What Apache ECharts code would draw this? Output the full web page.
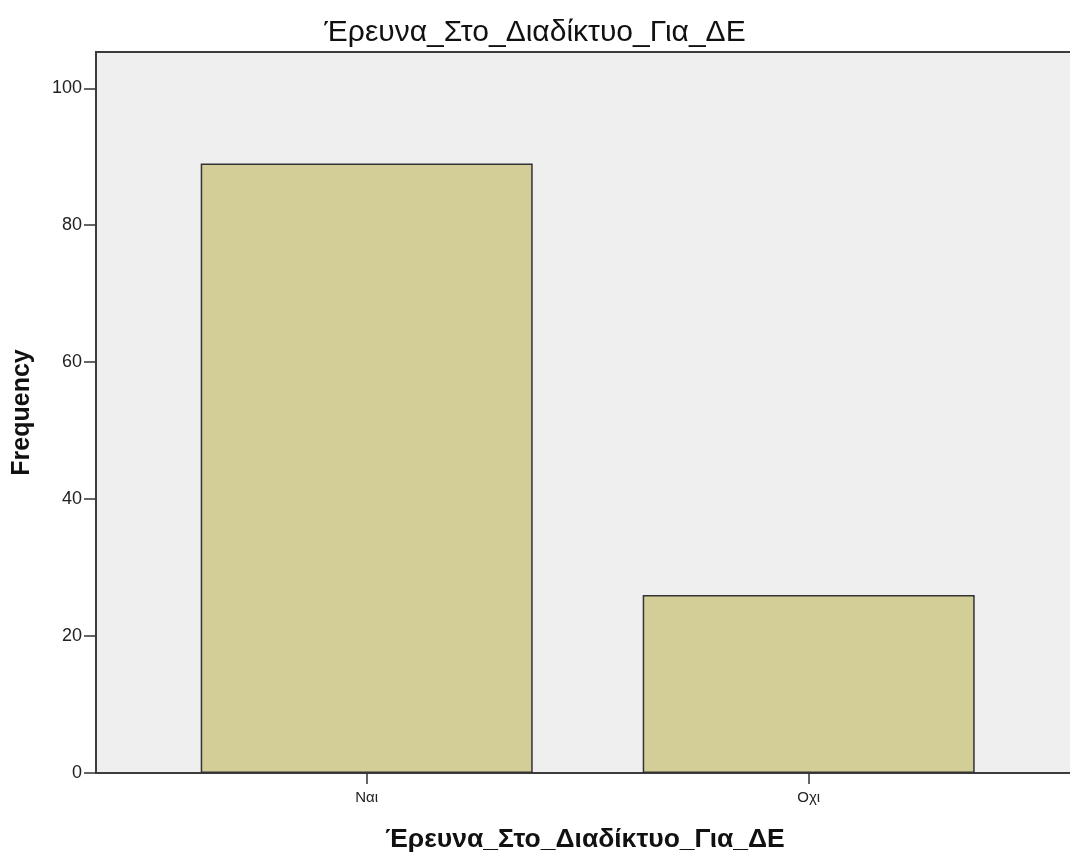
<!DOCTYPE html>
<html>
<head>
<meta charset="utf-8">
<script src="https://cdn.jsdelivr.net/npm/echarts@6/dist/echarts.min.js"></script>
<style>html,body{margin:0;padding:0;background:#fff}#c{width:1070px;height:858px}</style>
</head>
<body>
<div id="c"></div>
<script>
var categories = ['Ναι', 'Οχι'];
var frequencies = [89, 26];
var yTicks = [0, 20, 40, 60, 80, 100];
var titleText = 'Έρευνα_Στο_Διαδίκτυο_Για_ΔΕ';
var xName = 'Έρευνα_Στο_Διαδίκτυο_Για_ΔΕ';
var yName = 'Frequency';

var FONT = '"Liberation Sans", Arial, sans-serif';
var chart = echarts.init(document.getElementById('c'), null, {renderer: 'canvas'});
var YMAX = 105.3;
chart.setOption({
  animation: false,
  backgroundColor: '#ffffff',
  title: [
    {text: titleText, left: 'center', top: 13, textStyle: {fontFamily: FONT, fontSize: 30, fontWeight: 'normal', color: '#111'}}
  ],
  grid: [
    {left: 96, right: -4, top: 52, bottom: 85, outerBoundsMode: 'none', containLabel: false,
     show: true, backgroundColor: '#efefef', borderColor: '#3c3c3c', borderWidth: 2},
    {left: 145.7, right: 40.3, top: 52, bottom: 85, outerBoundsMode: 'none', containLabel: false}
  ],
  xAxis: [
    {gridIndex: 0, type: 'value', min: 0, max: 1,
     name: xName, nameLocation: 'middle', nameGap: 53,
     nameTextStyle: {fontFamily: FONT, fontSize: 26.5, fontWeight: 'bold', color: '#111'},
     axisLine: {show: false}, axisTick: {show: false}, axisLabel: {show: false}, splitLine: {show: false}},
    {gridIndex: 1, type: 'category', data: categories,
     axisLine: {show: false},
     axisTick: {show: true, alignWithLabel: true, length: 11, lineStyle: {color: '#333', width: 1.5}},
     axisLabel: {fontFamily: FONT, fontSize: 15, color: '#222', margin: 17}}
  ],
  yAxis: [
    {gridIndex: 0, type: 'value', min: 0, max: YMAX,
     name: yName, nameLocation: 'middle', nameGap: 61, nameRotate: 90,
     nameTextStyle: {fontFamily: FONT, fontSize: 25, fontWeight: 'bold', color: '#111'},
     axisLine: {show: true, lineStyle: {color: '#3c3c3c', width: 2}},
     axisTick: {show: true, length: 12, customValues: yTicks, lineStyle: {color: '#333', width: 1.5}},
     axisLabel: {fontFamily: FONT, fontSize: 18, color: '#222', margin: 14, customValues: yTicks},
     splitLine: {show: false}},
    {gridIndex: 1, type: 'value', min: 0, max: YMAX, show: false, splitLine: {show: false}}
  ],
  series: [{
    type: 'bar', xAxisIndex: 1, yAxisIndex: 1,
    data: frequencies, barWidth: 332,
    itemStyle: {color: '#d3ce98', borderColor: '#333333', borderWidth: 1.5}
  }]
});
</script>
</body>
</html>
